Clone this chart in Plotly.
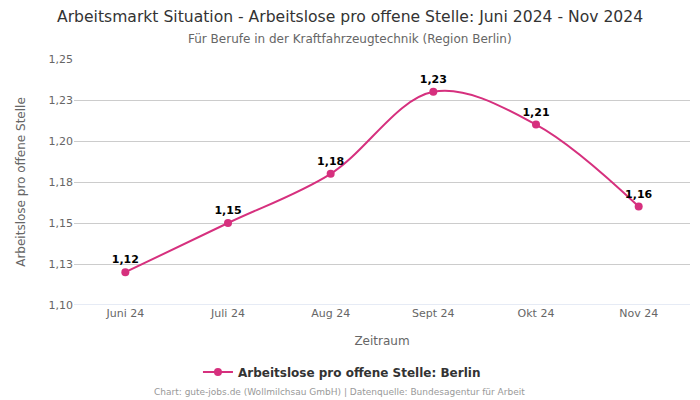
import plotly.graph_objects as go

months = ["Juni 24", "Juli 24", "Aug 24", "Sept 24", "Okt 24", "Nov 24"]
values = [1.12, 1.15, 1.18, 1.23, 1.21, 1.16]
tick_vals = [1.10, 1.125, 1.15, 1.175, 1.20, 1.225, 1.25]
tick_text = ["1,10", "1,13", "1,15", "1,18", "1,20", "1,23", "1,25"]
labels = [f"{v:.2f}".replace(".", ",") for v in values]

color = "#d6307e"
font = "DejaVu Sans, Verdana, sans-serif"

fig = go.Figure()
fig.add_trace(go.Scatter(
    x=months, y=values, mode="lines+markers+text",
    line=dict(color=color, width=2, shape="spline", smoothing=1.0),
    marker=dict(color=color, size=8),
    text=labels, textposition="top center",
    textfont=dict(family=font, size=11, color="#000000", weight="bold"),
    name="<b>Arbeitslose pro offene Stelle: Berlin</b>",
    cliponaxis=False,
))

fig.update_layout(
    width=700, height=400,
    margin=dict(l=74, r=10, t=59, b=95, autoexpand=False),
    paper_bgcolor="white", plot_bgcolor="white",
    font=dict(family=font, color="#666666", size=11),
    showlegend=True,
    legend=dict(orientation="h", x=0.435, xanchor="center",
                y=-0.2724, yanchor="middle",
                font=dict(size=12, color="#333333", family=font)),
    xaxis=dict(
        type="category", range=[-0.5, 5.5], tickangle=0,
        title=dict(text="Zeitraum", font=dict(size=12, color="#666666"), standoff=17),
        showgrid=False, showline=False, ticks="",
        tickfont=dict(size=11, color="#666666"),
    ),
    yaxis=dict(
        range=[1.10, 1.25], tickvals=tick_vals, ticktext=tick_text,
        title=dict(text="Arbeitslose pro offene Stelle", font=dict(size=12, color="#666666"), standoff=20),
        showgrid=True, gridcolor="#cccccc", gridwidth=1,
        zeroline=False, showline=False, ticks="",
        tickfont=dict(size=11, color="#666666"),
    ),
    annotations=[
        dict(text="Arbeitsmarkt Situation - Arbeitslose pro offene Stelle: Juni 2024 - Nov 2024",
             xref="paper", yref="paper", x=0.448, xanchor="center",
             y=1.1707, yanchor="middle", showarrow=False,
             font=dict(size=15.6, color="#333333", family=font)),
        dict(text="Für Berufe in der Kraftfahrzeugtechnik (Region Berlin)",
             xref="paper", yref="paper", x=0.448, xanchor="center",
             y=1.0813, yanchor="middle", showarrow=False,
             font=dict(size=12, color="#666666", family=font)),
        dict(text="Chart: gute-jobs.de (Wollmilchsau GmbH) | Datenquelle: Bundesagentur für Arbeit",
             xref="paper", yref="paper", x=0.4318, xanchor="center",
             y=-0.3537, yanchor="middle", showarrow=False,
             font=dict(size=9, color="#999999", family=font)),
    ],
)
fig.add_shape(type="line", xref="paper", yref="y", x0=0, x1=1, y0=1.10, y1=1.10,
              line=dict(color="#ccd6eb", width=1), layer="below")

fig.write_html("out.html", config={"displayModeBar": False},
               post_script="document.body.style.margin='0';")
